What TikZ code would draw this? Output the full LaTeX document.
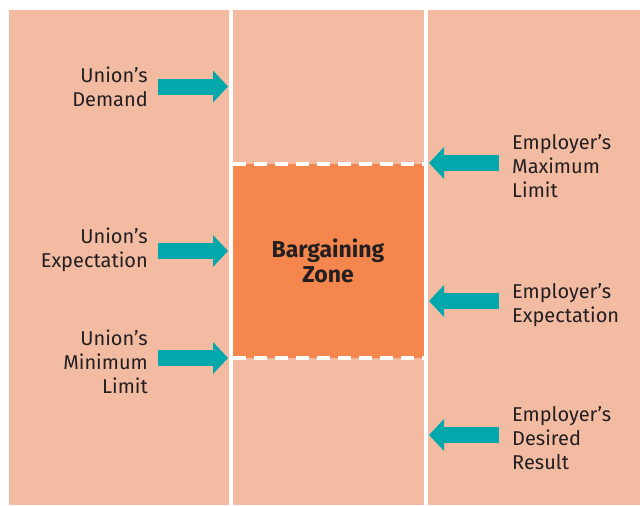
\documentclass[tikz,border=0pt]{standalone}
\usepackage{fontspec}
\setmainfont{Fira Sans}
\usetikzlibrary{arrows.meta, positioning}
\definecolor{peach}{HTML}{F2BBA2}
\definecolor{zoneorange}{HTML}{F5874E}
\definecolor{arrowteal}{HTML}{00A8AB}
\definecolor{inkgrey}{HTML}{231F20}

\begin{document}
\begin{tikzpicture}[x=1pt, y=-1pt,
	lbl/.style={inner sep=0pt, text=inkgrey, font=\fontsize{20}{24}\selectfont},
	bigarrow/.style={arrowteal, line width=16pt, -{Triangle[length=15pt, width=31pt]}},
	divider/.style={white, line width=4pt}]
	\useasboundingbox (0,0) rectangle (640,506);
	\fill[peach] (9,10) rectangle (640,505);
	\fill[zoneorange] (231,164) rectangle (426,358);

	\draw[divider] (231,10) -- (231,505);
	\draw[divider] (426,10) -- (426,505);
	\draw[divider, dash pattern=on 13pt off 8pt] (233,164) -- (424,164);
	\draw[divider, dash pattern=on 13pt off 8pt] (233,358) -- (424,358);

	\node[lbl, font=\fontsize{23}{25}\selectfont\bfseries, align=center] (zone) at (328,261) {Bargaining\\Zone};

	% union side
	\node[lbl, anchor=east, align=right] (udemand) at (148,87) {Union’s\\Demand};
	\node[lbl, anchor=east, align=right] (uexpect) at (148,250) {Union’s\\Expectation};
	\node[lbl, anchor=east, align=right] (uminimum) at (148,362) {Union’s\\Minimum\\Limit};
	\coordinate (ud1) at (158,86.5);  \coordinate (ud2) at (228,86.5);
	\coordinate (ue1) at (158,251);   \coordinate (ue2) at (228,251);
	\coordinate (um1) at (158,358);   \coordinate (um2) at (228,358);
	\draw[bigarrow] (ud1) -- (ud2);
	\draw[bigarrow] (ue1) -- (ue2);
	\draw[bigarrow] (um1) -- (um2);

	% employer side
	\node[lbl, anchor=west, align=left] (emaximum) at (512,166) {Employer’s\\Maximum\\Limit};
	\node[lbl, anchor=west, align=left] (eexpect) at (512,305) {Employer’s\\Expectation};
	\node[lbl, anchor=west, align=left] (edesired) at (512,438) {Employer’s\\Desired\\Result};
	\coordinate (em1) at (499,163);  \coordinate (em2) at (429,163);
	\coordinate (ee1) at (499,301);  \coordinate (ee2) at (429,301);
	\coordinate (ed1) at (499,435);  \coordinate (ed2) at (429,435);
	\draw[bigarrow] (em1) -- (em2);
	\draw[bigarrow] (ee1) -- (ee2);
	\draw[bigarrow] (ed1) -- (ed2);
\end{tikzpicture}
\end{document}
